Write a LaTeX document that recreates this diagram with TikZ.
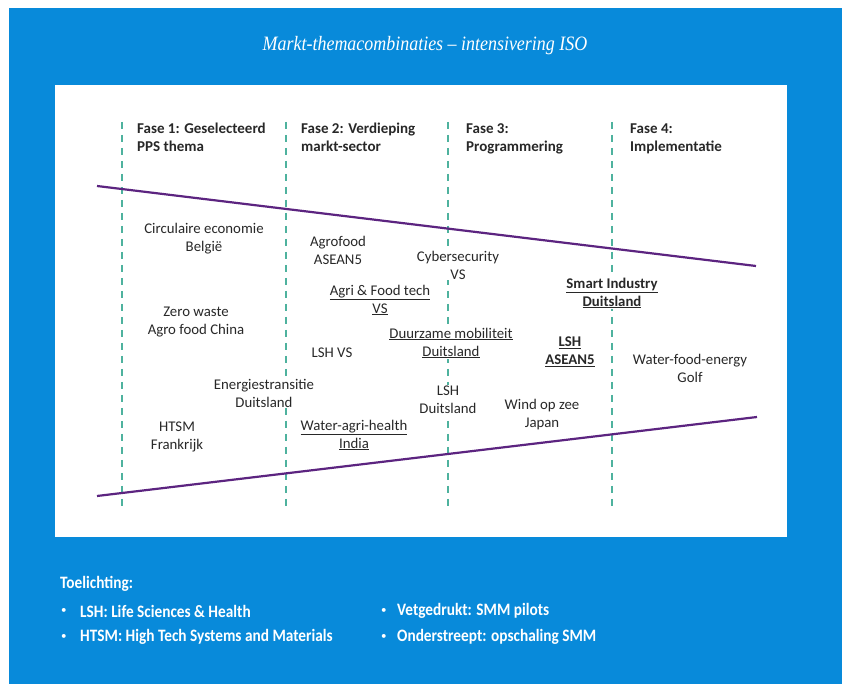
\documentclass[tikz,border=0pt]{standalone}
\usepackage{fontspec}
\setmainfont{Carlito}
\newfontfamily\titlefont[FakeStretch=0.88]{Liberation Serif}
\newfontfamily\legfont[FakeStretch=0.88]{Carlito}
\definecolor{roblue}{RGB}{8,138,218}
\definecolor{phaseteal}{RGB}{78,178,158}
\definecolor{funnelpurple}{RGB}{92,36,128}
\definecolor{txtgray}{RGB}{40,40,40}
\newcommand{\ulx}[1]{\underline{#1}}
\tikzset{
  item/.style={font=\fontsize{14.8}{18}\selectfont, align=center, fill=white, inner sep=1pt, text=txtgray},
  header/.style={font=\fontsize{15}{18}\selectfont\bfseries, align=left, anchor=west, inner sep=0pt, text=txtgray},
  phaseline/.style={phaseteal, line width=2pt, dash pattern=on 7pt off 6pt},
  funnel/.style={funnelpurple, line width=2.2pt},
  legend/.style={font=\legfont\bfseries\fontsize{17.4}{19}\selectfont, text=white, anchor=west, inner sep=0pt},
  bullet/.style={font=\fontsize{11}{12}\selectfont, text=white, anchor=west, inner sep=0pt}
}
\begin{document}
\begin{tikzpicture}[x=1pt,y=-1pt]
\useasboundingbox (0,0) rectangle (844,684);
\fill[white] (0,0) rectangle (844,684);
\fill[roblue] (9,8) rectangle (842,684);
\fill[white] (55,85) rectangle (787,537);

\node[font=\titlefont\itshape\fontsize{20.4}{24}\selectfont, text=white] (title) at (425,46) {Markt-themacombinaties – intensivering ISO};

% phase separators
\coordinate (p1t) at (122,122); \coordinate (p1b) at (122,512);
\coordinate (p2t) at (286,122); \coordinate (p2b) at (286,512);
\coordinate (p3t) at (448,122); \coordinate (p3b) at (448,512);
\coordinate (p4t) at (612,122); \coordinate (p4b) at (612,512);
\draw[phaseline] (p1t) -- (p1b);
\draw[phaseline] (p2t) -- (p2b);
\draw[phaseline] (p3t) -- (p3b);
\draw[phaseline] (p4t) -- (p4b);

% funnel lines
\coordinate (ftl) at (97,186); \coordinate (ftr) at (756,266);
\coordinate (fbl) at (97,496); \coordinate (fbr) at (757,417);
\draw[funnel] (ftl) -- (ftr);
\draw[funnel] (fbl) -- (fbr);

% headers
\node[header] (h1) at (137,137) {Fase 1: Geselecteerd\\PPS thema};
\node[header] (h2) at (301,137) {Fase 2: Verdieping\\markt-sector};
\node[header] (h3) at (466,139) {Fase 3:\\Programmering};
\node[header] (h4) at (630,139) {Fase 4:\\Implementatie};

% items
\node[item] (circ) at (204,239) {Circulaire economie\\België};
\node[item] (agro) at (338,250) {Agrofood\\ASEAN5};
\node[item] (cyber) at (458,265) {Cybersecurity\\VS};
\node[item] (agri) at (380,300) {\ulx{Agri \& Food tech}\\\ulx{VS}};
\node[item] (zero) at (196,322) {Zero waste\\Agro food China};
\node[item] (duur) at (451,343) {\ulx{Duurzame mobiliteit}\\\ulx{Duitsland}};
\node[item] (lshvs) at (332,353) {LSH VS};
\node[item, font=\fontsize{14.8}{18}\selectfont\bfseries] (smart) at (612,293) {\ulx{Smart Industry}\\\ulx{Duitsland}};
\node[item, font=\fontsize{14.8}{18}\selectfont\bfseries] (lshasean) at (570,352) {\ulx{LSH}\\\ulx{ASEAN5}};
\node[item] (wfe) at (690,368) {Water-food-energy\\Golf};
\node[item] (energ) at (264,393) {Energiestransitie\\Duitsland};
\node[item] (lshde) at (448,400) {LSH\\Duitsland};
\node[item] (wind) at (542,415) {Wind op zee\\Japan};
\node[item] (htsm) at (177,437) {HTSM\\Frankrijk};
\node[item] (wah) at (354,435) {\ulx{Water-agri-health}\\\ulx{India}};

% legend
\node[legend] (toel) at (60,584) {Toelichting:};
\node[bullet] (b1) at (61,611) {•};
\node[legend] (l1) at (80,611) {LSH: Life Sciences \& Health};
\node[bullet] (b2) at (61,637) {•};
\node[legend] (l2) at (80,637) {HTSM: High Tech Systems and Materials};
\node[bullet] (b3) at (381,611) {•};
\node[legend] (l3) at (397,611) {Vetgedrukt: SMM pilots};
\node[bullet] (b4) at (381,637) {•};
\node[legend] (l4) at (397,637) {Onderstreept: opschaling SMM};
\end{tikzpicture}
\end{document}
